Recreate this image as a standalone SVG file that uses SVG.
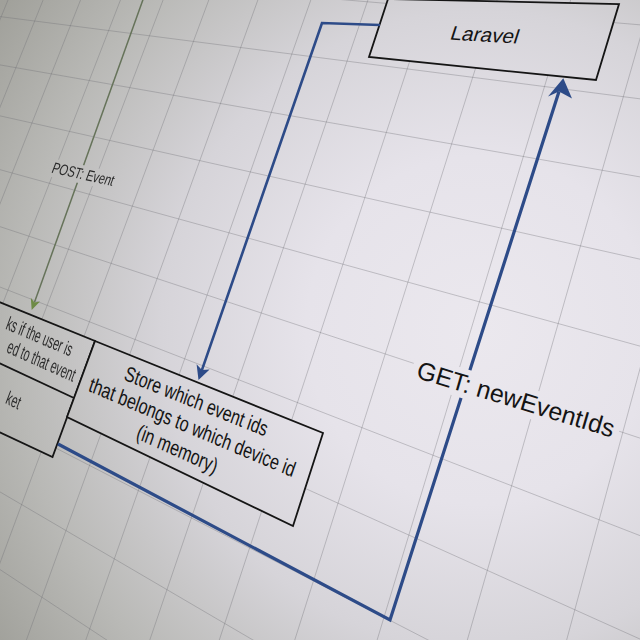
<svg xmlns="http://www.w3.org/2000/svg" width="640" height="640" viewBox="0 0 640 640">
<defs>
 <radialGradient id="bg" gradientUnits="userSpaceOnUse" cx="480" cy="330" r="580">
  <stop offset="0" stop-color="#ebe8ee"/>
  <stop offset="0.3" stop-color="#e6e3ea"/>
  <stop offset="0.55" stop-color="#d6d4d9"/>
  <stop offset="0.8" stop-color="#b9b9b6"/>
  <stop offset="1" stop-color="#a0a09a"/>
 </radialGradient>
 <filter id="soft" x="-10%" y="-10%" width="120%" height="120%"><feGaussianBlur stdDeviation="0.6"/></filter>
</defs>
<style>
 .grid{fill:none;stroke:#6e6c72;stroke-opacity:0.35;stroke-width:1}
 .box{fill:url(#bg);stroke:#151515;stroke-width:1.8;stroke-linejoin:miter}
 .edge{fill:none;stroke:#151515;stroke-width:1.8}
 .lbl{font-family:"Liberation Sans",Arial,Helvetica,sans-serif;font-size:12px;fill:#141414}
 .lbl11{font-family:"Liberation Sans",Arial,Helvetica,sans-serif;font-size:11px;fill:#2a2a2a}
 .soft{fill:#2b2b2b}
 .blue{fill:none;stroke:#2d4b88;stroke-width:3;stroke-linejoin:miter}
 .bluehead{fill:#2d4b88}
 .green{fill:none;stroke:#66735a;stroke-width:1.5}
 .greenhead{fill:#6e8b45}
 .lblbg{fill:url(#bg)}
</style>
<rect width="640" height="640" fill="url(#bg)"/>
<g id="grid">
 <path class="grid" d="M41.6,-82.1 L-204.3,518.9 M75.7,-81 L-174.7,541.4 M112.1,-79.8 L-143,565.5 M150.9,-78.5 L-108.9,591.4 M192.4,-77.2 L-72.1,619.4 M236.9,-75.8 L-32.2,649.7 M284.7,-74.2 L11,682.6 M336.3,-72.5 L58.2,718.5 M392,-70.7 L109.7,757.7 M452.5,-68.8 L166.4,800.8 M518.2,-66.6 L228.9,848.3 M590.1,-64.3 L298.2,901 M668.8,-61.7 L375.5,959.8 M755.6,-58.9 L462.3,1025.9"/>
 <path class="grid" d="M-20.1,-31 L906.9,47.4 M-37.9,11.7 L887.2,130.6 M-56,55.1 L866.9,216.6 M-74.4,99.2 L845.9,305.3 M-93.1,144 L824.2,396.9 M-112.1,189.6 L801.8,491.6 M-131.4,236 L778.7,589.5 M-151,283.1 L754.7,690.7 M-171,331.1 L729.9,795.6 M-191.4,379.9 L704.2,904.1 M-212.1,429.6 L677.6,1016.7"/>
</g>
<g id="left-box" filter="url(#soft)">
 <polygon class="box" points="-3,301 95,341 52.5,457 -3,431"/>
 <line class="edge" x1="-3" y1="362" x2="74" y2="398"/>
 <text class="lbl soft" text-anchor="end" textLength="60" lengthAdjust="spacingAndGlyphs" transform="matrix(1.08 0.4607 -0.553 1.487 69.8 356.4)">ks if the user is</text>
 <text class="lbl soft" text-anchor="end" textLength="61" lengthAdjust="spacingAndGlyphs" transform="matrix(1.0975 0.492 -0.56 1.513 72.7 382)">ed to that event</text>
 <text class="lbl soft" text-anchor="end" textLength="13" lengthAdjust="spacingAndGlyphs" transform="matrix(1.01 0.505 -0.559 1.477 18 409.5)">ket</text>
</g>
<g id="store">
 <polygon class="box" points="95,341 323,433 293,526 67,417"/>
 <text class="lbl" text-anchor="middle" transform="matrix(1.245 0.5 -0.578 1.662 194 408)">Store which event ids</text>
 <text class="lbl" text-anchor="middle" transform="matrix(1.255 0.53 -0.583 1.676 190 434)">that belongs to which device id</text>
 <text class="lbl" text-anchor="middle" transform="matrix(1.24 0.56 -0.588 1.69 175 456)">(in memory)</text>
</g>
<g id="laravel">
 <polygon class="box" points="388,-1 619,4 596,80 369,57"/>
 <text class="lbl" text-anchor="middle" transform="matrix(1.725 0.105 -0.52 1.63 483 41.5)">Laravel</text>
</g>
<g id="connectors">
 <g id="edge-post" filter="url(#soft)">
  <polyline class="green" points="145,-6 34.4,302.5"/>
  <polygon class="greenhead" points="31.7,310 30.8,297.7 34.4,302.5 40,301.5"/>
  <polygon class="lblbg" points="53.3,158.5 119.7,173.2 113.1,190.5 46.7,175.9"/>
  <text class="lbl11" text-anchor="middle" transform="matrix(0.976 0.216 -0.51 1.334 81.4 179.2)">POST: Event</text>
 </g>
 <g id="edge-store">
  <polyline class="blue" style="stroke-width:2.6" points="380,25 322,23 201.9,370.1"/>
  <polygon class="bluehead" points="198.5,380 196.6,364.2 201.9,370.1 209.6,369.4"/>
 </g>
 <g id="edge-get">
  <polyline class="blue" style="stroke-width:3.2" points="58,444 390,620 559,91.6"/>
  <polygon class="bluehead" points="563.3,78.3 548,96.5 559,91.6 572,98.5"/>
  <polygon class="lblbg" points="416.5,353.8 623.3,417.1 615.2,445.2 408.4,381.8"/>
  <text class="lbl" text-anchor="middle" transform="matrix(1.989 0.609 -0.583 2.004 513.5 407.5)">GET: newEventIds</text>
 </g>
</g>
</svg>
